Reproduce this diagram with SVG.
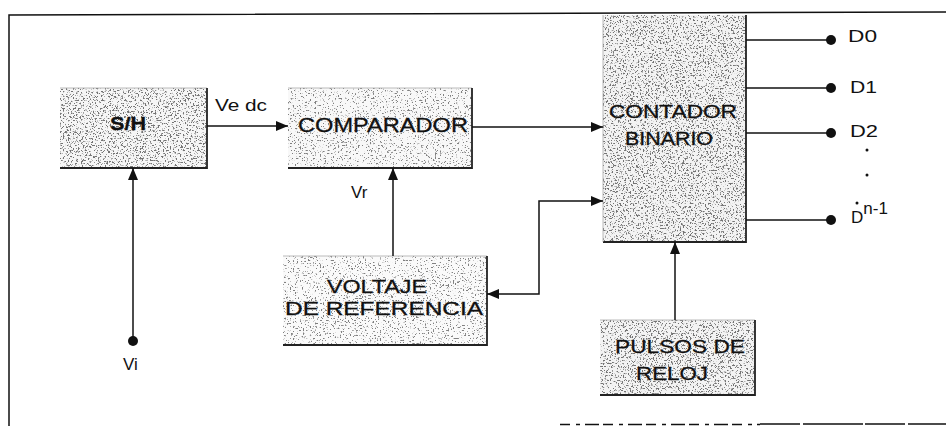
<svg xmlns="http://www.w3.org/2000/svg" width="946" height="426" viewBox="0 0 946 426">
<style>
.lbl{font-family:"Liberation Sans",Arial,sans-serif;fill:#111;}
.bx{stroke:#111;stroke-width:0.3;}
.sm{font-size:17px;}
.ln{stroke:#111;stroke-width:1.5;fill:none;}
.edge{stroke:#222;stroke-width:1.8;fill:none;}
.edgel{stroke:#aaa;stroke-width:0.8;fill:none;}
.dot{fill:#111;}
</style>
<defs>
<filter id="speck" x="0%" y="0%" width="100%" height="100%" color-interpolation-filters="sRGB">
<feTurbulence type="fractalNoise" baseFrequency="0.6" numOctaves="3" seed="7" result="t"/>
<feColorMatrix in="t" type="matrix" values="0 0 0 0 0.45  0 0 0 0 0.45  0 0 0 0 0.45  10 0 0 0 -5.6" result="d"/>
<feComposite in="d" in2="SourceGraphic" operator="atop"/>
</filter>
<filter id="speckl" x="0%" y="0%" width="100%" height="100%" color-interpolation-filters="sRGB">
<feTurbulence type="fractalNoise" baseFrequency="0.6" numOctaves="3" seed="11" result="t"/>
<feColorMatrix in="t" type="matrix" values="0 0 0 0 0.5  0 0 0 0 0.5  0 0 0 0 0.5  10 0 0 0 -6.1" result="d"/>
<feComposite in="d" in2="SourceGraphic" operator="atop"/>
</filter>
<marker id="ah" viewBox="0 0 12 10" refX="12" refY="5" markerWidth="12" markerHeight="10" markerUnits="userSpaceOnUse" orient="auto-start-reverse">
<path d="M0,0 L12,5 L0,10 z" fill="#111"/>
</marker>
</defs>

<g id="frame">
<path d="M9,426 V15 L946,12" class="ln" stroke-width="2.2"/>
<path d="M560,424.5 H760" class="ln" stroke-width="2" stroke-dasharray="10 6 4 5 14 4"/>
<path d="M760,424 H946" class="ln" stroke-width="2" stroke-dasharray="40 3 60 2"/>
</g>

<g id="sh">
<rect x="60" y="88" width="147" height="80" fill="#f6f6f6" filter="url(#speck)"/>
<path d="M60,88 H207" class="edgel"/>
<path d="M207,88 V168 H60" class="edge"/>
<text x="128" y="130" class="lbl bx" text-anchor="middle" font-size="19" font-weight="bold" textLength="36" lengthAdjust="spacingAndGlyphs">S/H</text>
</g>

<g id="comparador">
<rect x="288" y="88" width="184" height="80" fill="#f8f8f8" filter="url(#speckl)"/>
<path d="M288,88 H472" class="edgel"/>
<path d="M472,88 V168 H288" class="edge"/>
<text x="298" y="132" class="lbl bx" font-size="20" textLength="170" lengthAdjust="spacingAndGlyphs">COMPARADOR</text>
</g>

<g id="voltaje">
<rect x="283" y="256" width="204" height="89" fill="#fafafa" filter="url(#speckl)"/>
<path d="M283,256 H487" class="edgel"/>
<path d="M487,256 V345 H283" class="edge"/>
<text x="327" y="293" class="lbl bx" font-size="18" textLength="100" lengthAdjust="spacingAndGlyphs">VOLTAJE</text>
<text x="285" y="315" class="lbl bx" font-size="18" textLength="198" lengthAdjust="spacingAndGlyphs">DE  REFERENCIA</text>
</g>

<g id="contador">
<rect x="603" y="15" width="143" height="227" fill="#f3f3f3" filter="url(#speck)"/>
<path d="M746,15 V242 H603" class="edge"/>
<path d="M603,15 V242" class="edgel"/>
<text x="609" y="118" class="lbl bx" font-size="18" textLength="128" lengthAdjust="spacingAndGlyphs">CONTADOR</text>
<text x="625" y="145" class="lbl bx" font-size="18" textLength="88" lengthAdjust="spacingAndGlyphs">BINARIO</text>
</g>

<g id="pulsos">
<rect x="600" y="320" width="155" height="75" fill="#f3f3f3" filter="url(#speck)"/>
<path d="M600,320 H755" class="edgel"/>
<path d="M755,320 V395 H600" class="edge"/>
<text x="615" y="353" class="lbl bx" font-size="19" textLength="130" lengthAdjust="spacingAndGlyphs">PULSOS DE</text>
<text x="636" y="380" class="lbl bx" font-size="19" textLength="72" lengthAdjust="spacingAndGlyphs">RELOJ</text>
</g>

<g id="connectors">
<path d="M207,126 H288" class="ln" marker-end="url(#ah)"/>
<path d="M133,341 V168" class="ln" marker-end="url(#ah)"/>
<circle cx="133" cy="341" r="5" class="dot"/>
<path d="M393,256 V168" class="ln" marker-end="url(#ah)"/>
<path d="M472,127 H603" class="ln" marker-end="url(#ah)"/>
<path d="M487,294 H539 V201 H603" class="ln" marker-start="url(#ah)" marker-end="url(#ah)"/>
<path d="M675,320 V242" class="ln" marker-end="url(#ah)"/>
<path d="M746,40 H831" class="ln"/>
<circle cx="831" cy="40" r="5" class="dot"/>
<path d="M746,88 H831" class="ln"/>
<circle cx="831" cy="88" r="5" class="dot"/>
<path d="M746,133 H831" class="ln"/>
<circle cx="831" cy="133" r="5" class="dot"/>
<path d="M746,220 H831" class="ln"/>
<circle cx="831" cy="220" r="5" class="dot"/>
</g>

<g id="labels">
<text x="215" y="111" class="lbl sm" textLength="52" lengthAdjust="spacingAndGlyphs">Ve dc</text>
<text x="351" y="198" class="lbl sm">Vr</text>
<text x="123" y="370" class="lbl sm">Vi</text>
<text x="848" y="42" class="lbl sm" textLength="29" lengthAdjust="spacingAndGlyphs">D0</text>
<text x="850" y="93" class="lbl sm" textLength="27" lengthAdjust="spacingAndGlyphs">D1</text>
<text x="850" y="137" class="lbl sm" textLength="28" lengthAdjust="spacingAndGlyphs">D2</text>
<circle cx="867" cy="150" r="1.5" class="dot"/>
<circle cx="867" cy="175" r="1.5" class="dot"/>
<circle cx="857" cy="203" r="1.5" class="dot"/>
<text x="851" y="223" class="lbl sm">D<tspan dy="-9" font-size="17">n-1</tspan></text>
</g>
</svg>
